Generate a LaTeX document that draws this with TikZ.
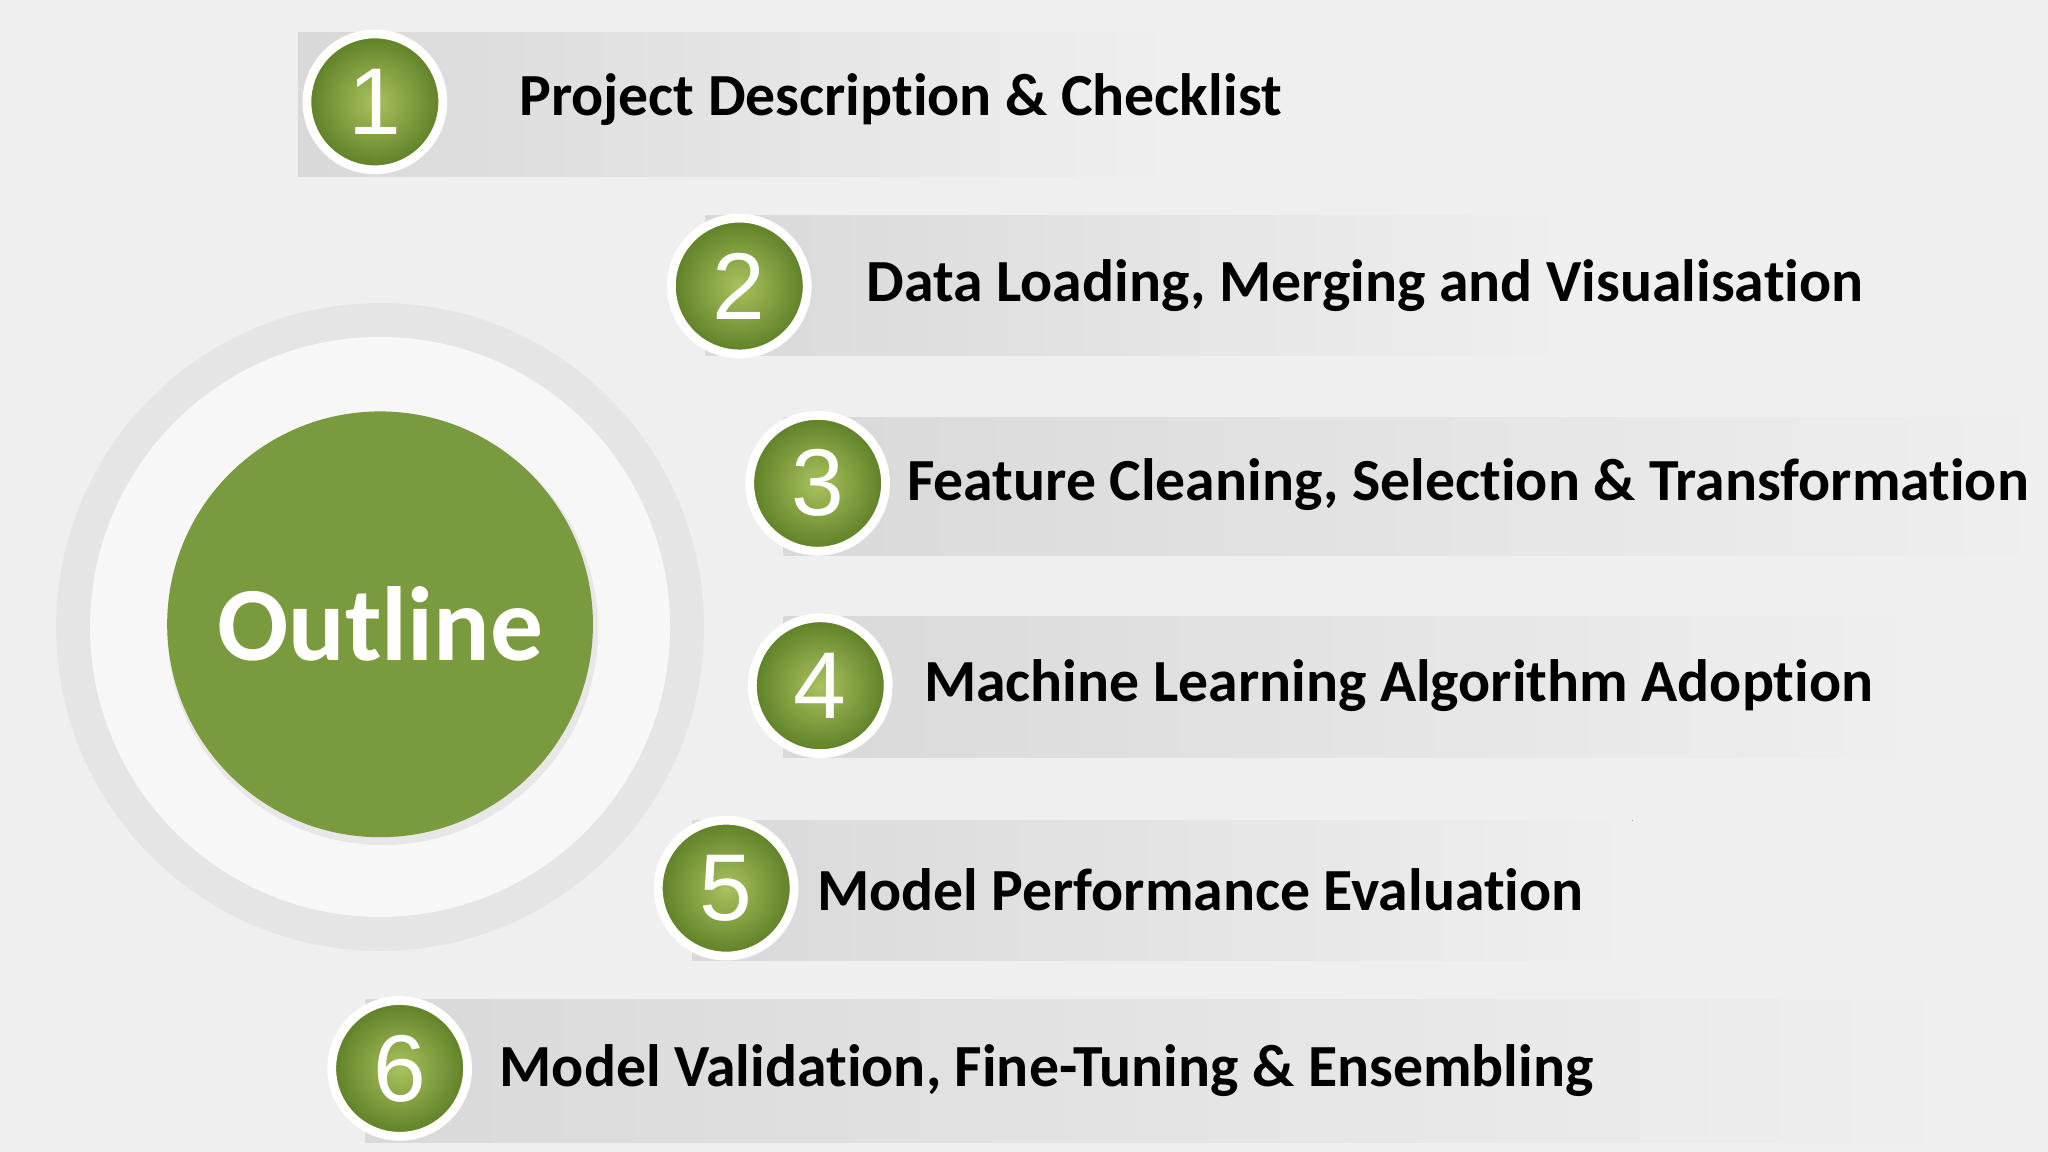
\documentclass[tikz,border=0pt]{standalone}
\usepackage{fontspec}
\setmainfont{Carlito}[Ligatures=NoCommon]
\newfontfamily\numfont{Liberation Sans}
\definecolor{olive}{HTML}{7A9A3E}
\definecolor{olivedark}{HTML}{5E7F26}
\definecolor{olivelight}{HTML}{A9C25E}
\definecolor{bg}{HTML}{EFEFEF}
\begin{document}
\begin{tikzpicture}[x=0.01306cm,y=-0.01306cm,
  badge/.style={circle,minimum size=104*0.01306cm,draw=white,line width=2.5pt,
    inner color=olivelight,outer color=olivedark,text=white,font=\numfont\fontsize{27}{27}\selectfont,inner sep=0pt},
  item/.style={anchor=west,font=\bfseries\fontsize{17}{17}\selectfont,text=black,inner sep=0pt},
  bar/.style={left color=gray!30,right color=bg,draw=none}]
\fill[bg] (0,0) rectangle (1568,882);
% big circle
\fill[gray!20,even odd rule] (291,480) circle (248) (291,480) circle (222);
\fill[gray!6] (291,480) circle (222);
\fill[gray!30,opacity=0.5] (293,482) circle (165);
\node[circle,fill=olive,minimum size=326*0.01306cm,inner sep=0pt,text=white,
  font=\bfseries\fontsize{30}{30}\selectfont] (outline) at (291,478) {Outline};
% bars
\fill[bar] (228,25) rectangle (900,135);
\fill[bar] (540,165) rectangle (1200,272);
\fill[bar] (600,320) rectangle (1568,425);
\fill[bar] (600,472) rectangle (1470,580);
\fill[bar] (530,628) rectangle (1250,735);
\fill[bar] (280,765) rectangle (1500,875);
% badges
\node[badge] (b1) at (287,78) {1};
\node[badge] (b2) at (566,219) {2};
\node[badge] (b3) at (626,370) {3};
\node[badge] (b4) at (628,525) {4};
\node[badge] (b5) at (556,680) {5};
\node[badge] (b6) at (306,818) {6};
\node[item] (t1) at (397,76) {Project Description \& Checklist};
\node[item] (t2) at (663,219) {Data Loading, Merging and Visualisation};
\node[item] (t3) at (694,371) {Feature Cleaning, Selection \& Transformation};
\node[item] (t4) at (707,525) {Machine Learning Algorithm Adoption};
\node[item] (t5) at (625,681) {Model Performance Evaluation};
\node[item] (t6) at (382,820) {Model Validation, Fine-Tuning \& Ensembling};
\end{tikzpicture}
\end{document}
